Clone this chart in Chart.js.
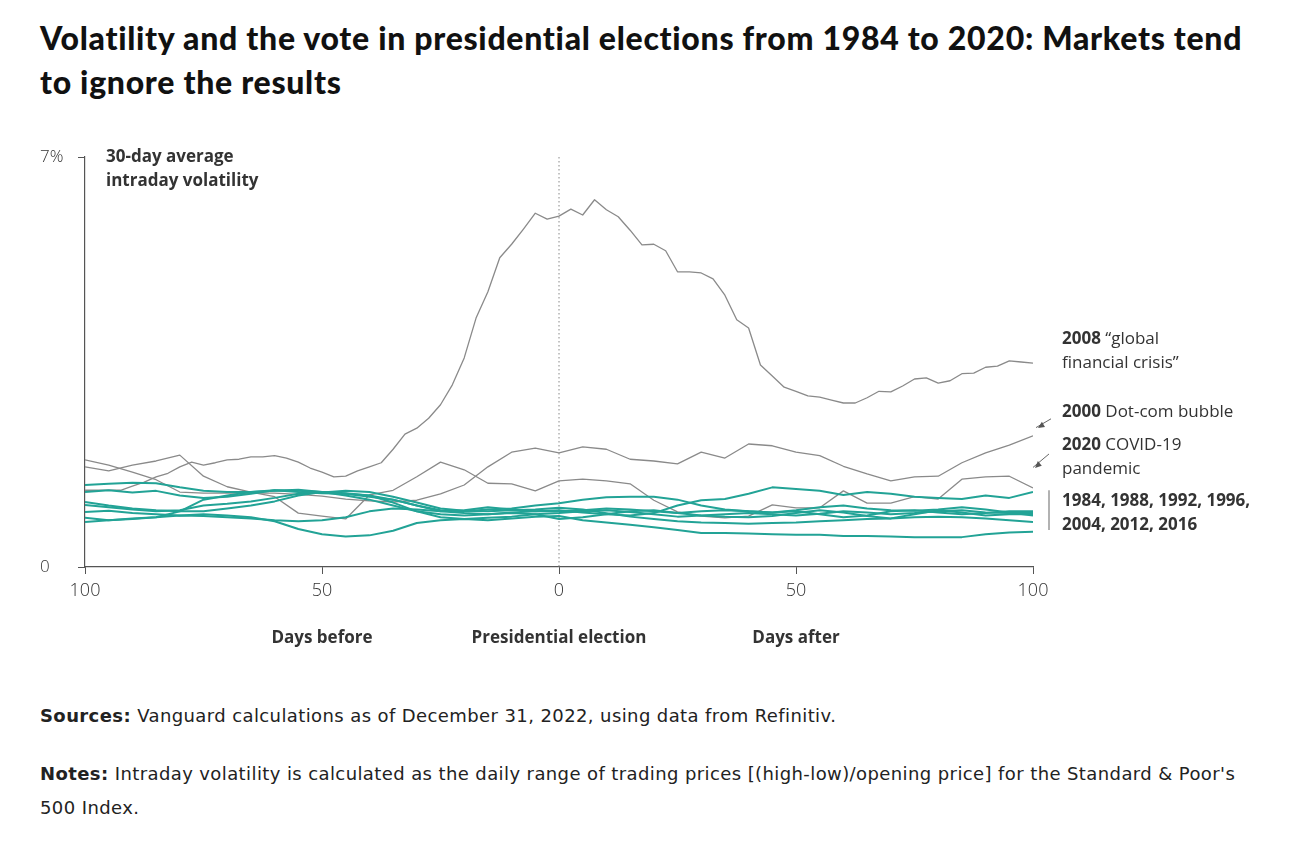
<!DOCTYPE html>
<html>
<head>
<meta charset="utf-8">
<script src="https://cdn.jsdelivr.net/npm/chart.js@4/dist/chart.umd.min.js"></script>
<style>
  body { margin: 0; background: #fff; width: 1292px; height: 845px; position: relative; overflow: hidden; }
  h1 { position: absolute; left: 40px; top: 16px; margin: 0; font: 900 32px/44px "Lato", sans-serif; color: #111; letter-spacing: 0.7px; white-space: nowrap; }
  #wrap { position: absolute; left: 0; top: 130px; width: 1292px; height: 540px; }
  .note { position: absolute; left: 40px; margin: 0; font: 18px/34px "DejaVu Sans", sans-serif; color: #222; letter-spacing: 0.4px; white-space: nowrap; }
  .note b { font-weight: 700; }
</style>
</head>
<body>
<h1>Volatility and the vote in presidential elections from 1984 to 2020: Markets tend<br>to ignore the results</h1>
<div id="wrap"><canvas id="chart" width="1292" height="540"></canvas></div>
<p class="note" style="top:699px"><b>Sources:</b> Vanguard calculations as of December 31, 2022, using data from Refinitiv.</p>
<p class="note" style="top:757px"><b>Notes:</b> Intraday volatility is calculated as the daily range of trading prices [(high-low)/opening price] for the Standard &amp; Poor's<br>500 Index.</p>

<script>
// ─── Data (30-day average intraday volatility, %) ─────────────────────────

const DAYS_5 = [-100, -95, -90, -85, -80, -75, -70, -65, -60, -55, -50, -45, -40, -35, -30, -25, -20, -15, -10, -5,
  0, 5, 10, 15, 20, 25, 30, 35, 40, 45, 50, 55, 60, 65, 70, 75, 80, 85, 90, 95, 100];

const DAYS_2008 = [-100, -97.5, -95, -92.5, -90, -87.5, -85, -82.5, -80, -77.5, -75, -72.5, -70, -67.5, -65, -62.5,
  -60, -57.5, -55, -52.5, -50, -47.5, -45, -42.5, -40, -37.5, -35, -32.5, -30, -27.5, -25, -22.5, -20, -17.5, -15,
  -12.5, -10, -7.5, -5, -2.5, 0, 2.5, 5, 7.5, 10, 12.5, 15, 17.5, 20, 22.5, 25, 27.5, 30, 32.5, 35, 37.5, 40, 42.5,
  45, 47.5, 50, 52.5, 55, 57.5, 60, 62.5, 65, 67.5, 70, 72.5, 75, 77.5, 80, 82.5, 85, 87.5, 90, 92.5, 95, 97.5, 100];

const VOL_2008 = [1.31, 1.31, 1.31, 1.31, 1.38, 1.45, 1.54, 1.60, 1.71, 1.79, 1.74, 1.78, 1.83, 1.84, 1.88, 1.88,
  1.90, 1.86, 1.79, 1.69, 1.62, 1.54, 1.55, 1.64, 1.71, 1.78, 2.01, 2.27, 2.37, 2.54, 2.77, 3.11, 3.57, 4.25, 4.70,
  5.28, 5.51, 5.77, 6.04, 5.94, 5.99, 6.11, 6.01, 6.27, 6.10, 5.98, 5.75, 5.50, 5.51, 5.40, 5.04, 5.04, 5.02, 4.92,
  4.64, 4.22, 4.08, 3.45, 3.26, 3.07, 3.00, 2.92, 2.90, 2.85, 2.80, 2.80, 2.89, 3.00, 2.99, 3.09, 3.21, 3.23, 3.14,
  3.18, 3.30, 3.31, 3.41, 3.43, 3.52, 3.50, 3.48];

const VOL_2000 = [1.83, 1.74, 1.62, 1.49, 1.28, 1.26, 1.26, 1.26, 1.26, 1.24, 1.21, 1.16, 1.13, 1.11, 1.14, 1.25,
  1.40, 1.71, 1.96, 2.03, 1.95, 2.05, 2.01, 1.84, 1.81, 1.76, 1.96, 1.86, 2.10, 2.07, 1.96, 1.90, 1.72, 1.59, 1.47,
  1.54, 1.55, 1.78, 1.95, 2.08, 2.24];

const VOL_2020 = [1.71, 1.64, 1.74, 1.81, 1.91, 1.55, 1.37, 1.28, 1.20, 0.92, 0.87, 0.82, 1.23, 1.31, 1.54, 1.79,
  1.66, 1.43, 1.42, 1.30, 1.47, 1.50, 1.47, 1.42, 1.14, 0.94, 0.87, 0.84, 0.87, 1.06, 1.01, 1.01, 1.30, 1.09, 1.09,
  1.20, 1.16, 1.50, 1.54, 1.55, 1.35];

// The seven "calm" elections: 1984, 1988, 1992, 1996, 2004, 2012, 2016
const VOL_CALM = [
  [1.40, 1.42, 1.44, 1.43, 1.36, 1.30, 1.28, 1.28, 1.31, 1.28, 1.26, 1.25, 1.22, 1.10, 0.95, 0.85, 0.82, 0.84, 0.86,
   0.90, 0.92, 0.95, 0.97, 0.94, 0.90, 0.86, 0.88, 0.90, 0.92, 0.90, 0.88, 0.91, 0.95, 0.93, 0.90, 0.92, 0.95, 0.97,
   0.93, 0.92, 0.92],
  [1.28, 1.31, 1.27, 1.30, 1.22, 1.18, 1.20, 1.25, 1.31, 1.30, 1.28, 1.25, 1.20, 1.15, 1.05, 0.95, 0.92, 0.90, 0.93,
   0.95, 0.97, 0.93, 0.90, 0.88, 0.92, 1.05, 1.14, 1.16, 1.25, 1.36, 1.33, 1.30, 1.23, 1.28, 1.25, 1.20, 1.18, 1.16,
   1.22, 1.18, 1.28],
  [1.11, 1.05, 1.00, 0.97, 0.95, 0.95, 1.00, 1.05, 1.12, 1.22, 1.28, 1.26, 1.22, 1.15, 1.05, 0.97, 0.95, 0.98, 1.00,
   1.05, 1.09, 1.15, 1.19, 1.20, 1.20, 1.15, 1.05, 0.98, 0.95, 0.93, 0.95, 0.90, 0.85, 0.88, 0.95, 0.97, 0.93, 0.90,
   0.92, 0.95, 0.95],
  [1.06, 1.02, 0.98, 0.95, 0.97, 1.05, 1.08, 1.12, 1.18, 1.25, 1.27, 1.30, 1.28, 1.20, 1.10, 1.00, 0.96, 0.95, 0.97,
   0.98, 1.01, 0.98, 0.92, 0.86, 0.82, 0.78, 0.76, 0.75, 0.74, 0.75, 0.76, 0.78, 0.80, 0.82, 0.83, 0.85, 0.86, 0.85,
   0.83, 0.80, 0.77],
  [0.94, 0.96, 0.92, 0.90, 0.88, 0.90, 0.88, 0.85, 0.78, 0.65, 0.56, 0.52, 0.54, 0.62, 0.75, 0.80, 0.82, 0.80, 0.83,
   0.86, 0.87, 0.80, 0.76, 0.72, 0.68, 0.63, 0.58, 0.58, 0.57, 0.56, 0.55, 0.55, 0.53, 0.53, 0.52, 0.51, 0.51, 0.51,
   0.56, 0.59, 0.60],
  [0.84, 0.80, 0.82, 0.85, 0.95, 1.15, 1.22, 1.28, 1.30, 1.32, 1.28, 1.22, 1.15, 1.05, 0.95, 0.90, 0.88, 0.90, 0.92,
   0.90, 0.82, 0.85, 0.90, 0.95, 0.97, 0.92, 0.88, 0.86, 0.85, 0.87, 0.92, 0.97, 0.93, 0.87, 0.83, 0.90, 0.97, 0.93,
   0.88, 0.90, 0.90],
  [0.77, 0.80, 0.83, 0.85, 0.88, 0.87, 0.85, 0.83, 0.80, 0.78, 0.80, 0.85, 0.95, 1.00, 0.98, 0.95, 0.97, 1.02, 0.98,
   0.95, 0.95, 0.97, 1.00, 0.98, 0.95, 0.92, 0.95, 0.97, 0.95, 0.93, 0.97, 1.02, 1.05, 1.00, 0.97, 0.96, 0.98, 1.02,
   0.98, 0.93, 0.88],
];

const X_TICKS = [-100, -50, 0, 50, 100];
const Y_TICKS = [0, 7];

// ─── Style ────────────────────────────────────────────────────────────────

const TEAL  = "#22a396";
const GREY  = "#8a8a8a";
const AXIS  = "#555";
const TEXT  = "#333";
const FONT  = '"Open Sans", sans-serif';

function toPoints(days, vals) {
  return vals.map((v, i) => ({ x: days[i], y: v }));
}

const datasets = [];
VOL_CALM.forEach(vals => {
  datasets.push({ data: toPoints(DAYS_5, vals), borderColor: TEAL, borderWidth: 2, order: 0 });
});
datasets.push({ data: toPoints(DAYS_2008, VOL_2008), borderColor: GREY, borderWidth: 1.3, order: 1 });
datasets.push({ data: toPoints(DAYS_5, VOL_2000), borderColor: GREY, borderWidth: 1.3, order: 1 });
datasets.push({ data: toPoints(DAYS_5, VOL_2020), borderColor: GREY, borderWidth: 1.3, order: 1 });

// ─── Annotations (dotted election line, labels, arrows) ──────────────────

function arrow(ctx, x1, y1, x2, y2) {
  const a = Math.atan2(y2 - y1, x2 - x1);
  ctx.beginPath();
  ctx.moveTo(x1, y1);
  ctx.lineTo(x2, y2);
  ctx.stroke();
  ctx.beginPath();
  ctx.moveTo(x2 + 2, y2 + 0.5);
  ctx.lineTo(x2 - 7 * Math.cos(a - 0.45) + 2, y2 - 7 * Math.sin(a - 0.45));
  ctx.lineTo(x2 - 7 * Math.cos(a + 0.45) + 2, y2 - 7 * Math.sin(a + 0.45));
  ctx.closePath();
  ctx.fill();
}

function richLine(ctx, x, y, boldPart, rest) {
  ctx.font = `700 17px ${FONT}`;
  ctx.fillText(boldPart, x, y);
  if (!rest) return;
  const w = ctx.measureText(boldPart).width;
  ctx.font = `400 17px ${FONT}`;
  ctx.fillText(rest, x + w, y);
}

const annotations = {
  id: "annotations",
  beforeDatasetsDraw(chart) {
    const { ctx, chartArea, scales } = chart;
    const x0 = scales.x.getPixelForValue(0);
    ctx.save();
    ctx.strokeStyle = "#888";
    ctx.lineWidth = 1;
    ctx.setLineDash([1.5, 2.5]);
    ctx.beginPath();
    ctx.moveTo(x0, chartArea.top);
    ctx.lineTo(x0, chartArea.bottom);
    ctx.stroke();
    ctx.restore();
  },
  afterDraw(chart) {
    const { ctx, chartArea, scales } = chart;
    const y = v => scales.y.getPixelForValue(v);
    ctx.save();
    ctx.fillStyle = TEXT;
    ctx.textBaseline = "middle";

    // y-axis title
    ctx.textAlign = "left";
    ctx.font = `700 17px ${FONT}`;
    ctx.fillText("30-day average", chartArea.left + 21, chartArea.top);
    ctx.fillText("intraday volatility", chartArea.left + 21, chartArea.top + 24);

    // x-axis group labels
    ctx.textAlign = "center";
    const by = chartArea.bottom + 71;
    ctx.fillText("Days before", scales.x.getPixelForValue(-50), by);
    ctx.fillText("Presidential election", scales.x.getPixelForValue(0), by);
    ctx.fillText("Days after", scales.x.getPixelForValue(50), by);

    // series labels on the right
    ctx.textAlign = "left";
    const lx = chartArea.right + 29;
    richLine(ctx, lx, y(3.89), "2008", " \u201cglobal");
    richLine(ctx, lx, y(3.48), "", "financial crisis\u201d");
    richLine(ctx, lx, y(2.64), "2000", " Dot-com bubble");
    richLine(ctx, lx, y(2.08), "2020", " COVID-19");
    richLine(ctx, lx, y(1.67), "", "pandemic");
    richLine(ctx, lx, y(1.13), "1984, 1988, 1992, 1996,");
    richLine(ctx, lx, y(0.72), "2004, 2012, 2016");

    ctx.strokeStyle = "#666";
    ctx.fillStyle = "#555";
    ctx.lineWidth = 1;
    arrow(ctx, chartArea.right + 18, y(2.53), chartArea.right + 3, y(2.38));
    arrow(ctx, chartArea.right + 16, y(1.93), chartArea.right + 0, y(1.70));

    ctx.strokeStyle = "#999";
    ctx.lineWidth = 1.5;
    ctx.beginPath();
    ctx.moveTo(chartArea.right + 16, y(1.31));
    ctx.lineTo(chartArea.right + 16, y(0.63));
    ctx.stroke();
    ctx.restore();
  },
};

// ─── Chart ────────────────────────────────────────────────────────────────

new Chart(document.getElementById("chart"), {
  type: "line",
  data: { datasets },
  plugins: [annotations],
  options: {
    responsive: false,
    animation: false,
    layout: { padding: { left: 40, top: 27, right: 259, bottom: 0 } },
    elements: { point: { radius: 0 }, line: { tension: 0, borderJoinStyle: "round" } },
    plugins: { legend: { display: false }, tooltip: { enabled: false } },
    scales: {
      x: {
        type: "linear",
        min: -100,
        max: 100,
        afterFit: s => { s.height = 103; },
        afterBuildTicks: s => { s.ticks = X_TICKS.map(v => ({ value: v })); },
        grid: { drawOnChartArea: false, drawTicks: true, tickLength: 7, color: AXIS },
        border: { display: true, color: AXIS, width: 1.2 },
        ticks: { color: TEXT, padding: 6, font: { family: FONT, size: 18, weight: 300 }, callback: v => String(Math.abs(v)) },
      },
      y: {
        min: 0,
        max: 7,
        afterFit: s => { s.width = 45; },
        afterBuildTicks: s => { s.ticks = Y_TICKS.map(v => ({ value: v })); },
        grid: { drawOnChartArea: false, drawTicks: true, tickLength: 7, color: AXIS },
        border: { display: true, color: AXIS, width: 1.2 },
        ticks: { color: TEXT, crossAlign: "far", padding: 4, font: { family: FONT, size: 17, weight: 300 }, callback: v => v === 7 ? "7%" : "0" },
      },
    },
  },
});
</script>
</body>
</html>
